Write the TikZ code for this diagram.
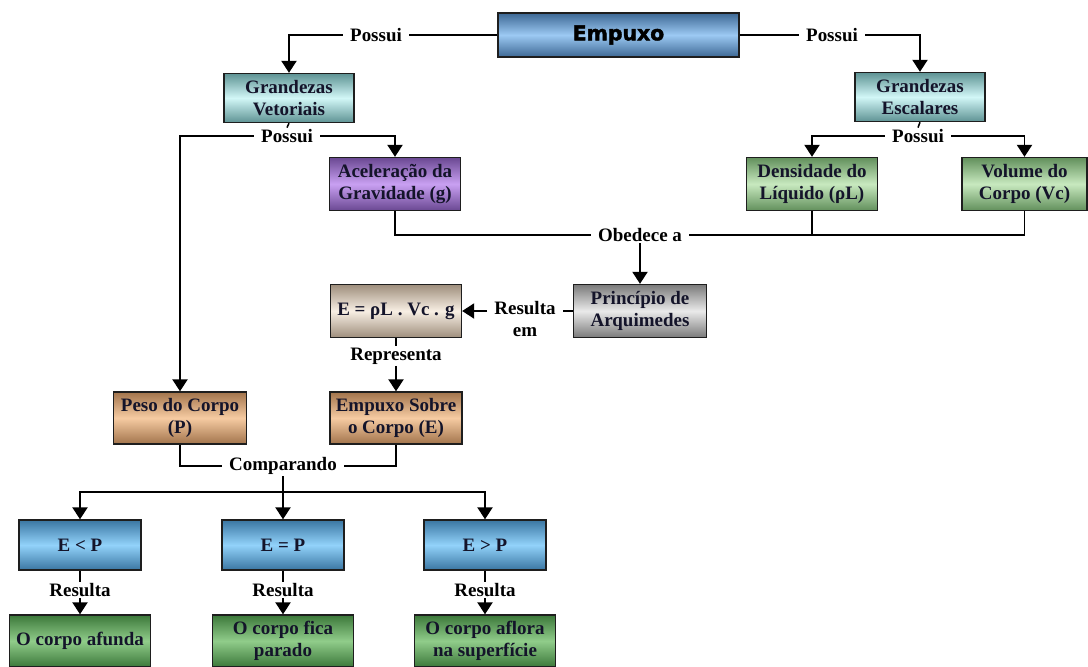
\documentclass[tikz,border=0pt]{standalone}
\usepackage{fontspec}
\setmainfont{Liberation Serif}
\newfontfamily\heavyfont{DejaVu Sans}[FakeBold=2]
\usetikzlibrary{arrows.meta}
\definecolor{empL}{HTML}{9CC9F3}
\definecolor{empD}{HTML}{3D6894}
\definecolor{cyaL}{HTML}{D2F7F7}
\definecolor{cyaD}{HTML}{5E9394}
\definecolor{purL}{HTML}{C9A0F2}
\definecolor{purD}{HTML}{6A4892}
\definecolor{grnL}{HTML}{C8E9BF}
\definecolor{grnD}{HTML}{62905C}
\definecolor{gryL}{HTML}{EAEAEA}
\definecolor{gryD}{HTML}{7A7A7A}
\definecolor{beiL}{HTML}{F8EFE4}
\definecolor{beiD}{HTML}{9E8E7C}
\definecolor{tanL}{HTML}{F6CBA2}
\definecolor{tanD}{HTML}{A2744C}
\definecolor{bluL}{HTML}{92D2FA}
\definecolor{bluD}{HTML}{3A76A2}
\definecolor{dgrL}{HTML}{90CC8A}
\definecolor{dgrD}{HTML}{3C783A}
\definecolor{inkdark}{HTML}{1E1E1E}
\definecolor{boxtext}{HTML}{14142A}
\newcommand{\bx}{\bfseries\fontsize{13.5}{15.5}\selectfont}

\begin{document}
\begin{tikzpicture}[x=0.025cm, y=-0.025cm,
  box/.style 2 args={draw=inkdark, line width=1pt, top color=#2, bottom color=#2, middle color=#1,
                     align=center, font=\bx, text=boxtext, inner sep=0pt},
  sz/.style 2 args={minimum width=#1*0.025cm, minimum height=#2*0.025cm},
  lbl/.style={font=\bx, inner xsep=5pt, inner ysep=1pt, align=center},
  link/.style={line width=1.1pt, black},
  >={Triangle[length=3mm,width=3.8mm]}]
\useasboundingbox (0,0) rectangle (1088,666);

% ================================================================== top: Empuxo and its two kinds of quantities
\node[box={empL}{empD}, sz={241}{44}, font=\heavyfont\bfseries\fontsize{14.5}{16}\selectfont, text=black]
     (emp) at (618.5,35) {Empuxo};
\node[lbl] (possL) at (376,35) {Possui};
\node[lbl] (possR) at (832,35) {Possui};
\node[box={cyaL}{cyaD}, sz={130}{49}] (vet) at (289,98) {Grandezas\\Vetoriais};
\node[box={cyaL}{cyaD}, sz={130}{49}] (esc) at (920,97) {Grandezas\\Escalares};
\draw[link] (emp.west) -- (possL.east);
\draw[link, ->] (possL.west) -| (vet.north);
\draw[link] (emp.east) -- (possR.west);
\draw[link, ->] (possR.east) -| (esc.north);

% ================================================================== what each kind has
\node[lbl] (possV) at (287,136) {Possui};
\node[lbl] (possE) at (918,136) {Possui};
\node[box={purL}{purD}, sz={131}{53}] (acel) at (395,184) {Aceleração da\\Gravidade (g)};
\node[box={grnL}{grnD}, sz={131}{53}] (dens) at (812,184) {Densidade do\\Líquido (ρL)};
\node[box={grnL}{grnD}, sz={125}{53}] (vol) at (1024.5,184) {Volume do\\Corpo (Vc)};
\draw[link] (vet.south) -- (possV.north);
\draw[link] (esc.south) -- (possE.north);
\draw[link, ->] (possV.east) -| (acel.north);
\draw[link, ->] (possE.west) -| (dens.north);
\draw[link, ->] (possE.east) -| (vol.north);

% ================================================================== Arquimedes and the formula
\node[lbl] (obed) at (640,235) {Obedece a};
\node[box={gryL}{gryD}, sz={133}{53}] (princ) at (640,311) {Princípio de\\Arquimedes};
\node[box={beiL}{beiD}, sz={131}{53}] (form) at (396,311) {E = ρL . Vc . g};
\node[lbl, inner ysep=0pt] (res) at (525,319) {Resulta\\em};
\draw[link] (acel.south) |- (obed.west);
\draw[link] (obed.east) -| (vol.south);
\draw[link] (dens.south) -- (dens.south |- obed.east);
\draw[link, ->] (obed.south) -- (princ.north);
\draw[link] (princ.west) -- (res.east |- princ.west);
\draw[link, ->] (res.west |- form.east) -- (form.east);

% ================================================================== weight against buoyancy
\node[lbl] (repr) at (396,356) {Representa};
\node[box={tanL}{tanD}, sz={133}{52}] (peso) at (180,418) {Peso do Corpo\\(P)};
\node[box={tanL}{tanD}, sz={132}{52}] (emps) at (396,418) {Empuxo Sobre\\o Corpo (E)};
\node[lbl] (comp) at (283,466) {Comparando};
\coordinate (j) at (283,492);
\draw[link] (form.south) -- (repr.north);
\draw[link, ->] (repr.south) -- (emps.north);
\draw[link, ->] (possV.west) -| (peso.north);
\draw[link] (peso.south) |- (comp.west);
\draw[link] (comp.east) -| (emps.south);
\draw[link] (comp.south) -- (j);

% ================================================================== the three outcomes
\foreach \n/\x/\rel/\out in {ltp/80/{E < P}/{O corpo afunda},
                             eqp/283/{E = P}/{O corpo fica\\parado},
                             gtp/485/{E > P}/{O corpo aflora\\na superfície}}{
  \node[box={bluL}{bluD}, sz={122}{50}] (\n) at (\x,545) {\rel};
  \node[lbl] (r\n) at (\x,590) {Resulta};
  \node[box={dgrL}{dgrD}, sz={141}{52}] (o\n) at (\x,641) {\out};
  \draw[link, ->] (j) -| (\n.north);
  \draw[link] (\n.south) -- (r\n.north);
  \draw[link, ->] (r\n.south) -- (o\n.north);
}
\end{tikzpicture}
\end{document}
